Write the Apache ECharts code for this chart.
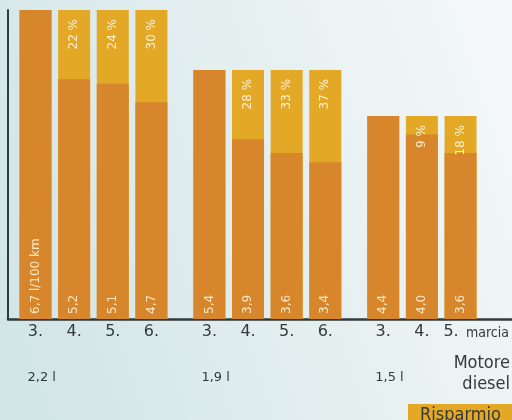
<!DOCTYPE html>
<html>
<head>
<meta charset="utf-8">
<script src="https://cdn.jsdelivr.net/npm/echarts@6/dist/echarts.min.js"></script>
<style>
  html, body { margin: 0; padding: 0; }
  #chart { width: 512px; height: 420px; }
</style>
</head>
<body>
<div id="chart"></div>
<script>
// Fuel consumption (l/100 km) per gear for three diesel engines
const engines = ['2,2 l', '1,9 l', '1,5 l'];
const gears = [
  ['3.', '4.', '5.', '6.'],
  ['3.', '4.', '5.', '6.'],
  ['3.', '4.', '5.']
];
const consumption = [
  [6.7, 5.2, 5.1, 4.7],
  [5.4, 3.9, 3.6, 3.4],
  [4.4, 4.0, 3.6]
];
// slot positions along the x axis (groups separated by an extra half slot)
const positions = [
  [0, 1, 2, 3],
  [4.5, 5.5, 6.5, 7.5],
  [9, 10, 11]
];

const DARK = '#d7862b';
const GOLD = '#e3a825';
const INK = '#333a3c';

// dark bars: consumption in each gear; gold bars behind them: 3rd gear reference
const usedData = [];
const refData = [];
const gearAt = {};
const lastGroup = positions[positions.length - 1];
const lastPos = lastGroup[lastGroup.length - 1];
consumption.forEach((vals, g) => {
  const ref = vals[0];
  vals.forEach((v, i) => {
    const p = positions[g][i];
    usedData.push({ value: [p, v], first: g === 0 && i === 0 });
    refData.push({ value: [p, ref], used: v, label: { show: v < ref } });
    gearAt[p] = gears[g][i];
  });
});
const allPositions = positions.flat();

const fmtNum = v => v.toFixed(1).replace('.', ',');

const chart = echarts.init(document.getElementById('chart'));
chart.setOption({
  backgroundColor: {
    type: 'linear', x: 0, y: 0.7, x2: 1, y2: 0.3,
    colorStops: [
      { offset: 0, color: '#d2e5e7' },
      { offset: 1, color: '#f3f7f7' }
    ]
  },
  animation: false,
  grid: { left: 8, right: 0, top: 10, bottom: 101 },
  xAxis: {
    type: 'value',
    min: -0.7117,
    max: 12.332,
    splitLine: { show: false },
    axisLine: { show: true, onZero: false, lineStyle: { color: INK, width: 2.5 } },
    axisTick: { show: false },
    axisLabel: {
      customValues: allPositions,
      formatter: v => v === lastPos ? '{s|' + gearAt[v] + '}' : (gearAt[v] || ''),
      margin: 5,
      fontFamily: 'DejaVu Sans',
      fontSize: 16,
      color: INK,
      rich: {
        s: { fontFamily: 'DejaVu Sans', fontSize: 16, color: INK, padding: [0, 19, 0, 0] }
      }
    }
  },
  yAxis: {
    type: 'value',
    min: 0,
    max: 6.7,
    splitLine: { show: false },
    axisLine: { show: true, onZero: false, lineStyle: { color: INK, width: 2 } },
    axisTick: { show: false },
    axisLabel: { show: false }
  },
  series: [
    {
      name: 'Risparmio',
      type: 'bar',
      barWidth: 32,
      barGap: '-100%',
      data: refData,
      itemStyle: { color: GOLD },
      label: {
        show: true,
        position: 'insideTop',
        rotate: 90,
        align: 'right',
        verticalAlign: 'middle',
        distance: 9,
        fontFamily: 'DejaVu Sans',
        fontSize: 12,
        color: '#fdf0d2',
        formatter: p => Math.round((p.value[1] - p.data.used) / p.value[1] * 100) + ' %'
      }
    },
    {
      name: 'Consumo',
      type: 'bar',
      barWidth: 32,
      barGap: '-100%',
      data: usedData,
      itemStyle: { color: DARK },
      label: {
        show: true,
        position: 'insideBottom',
        rotate: 90,
        align: 'left',
        verticalAlign: 'middle',
        distance: 5,
        fontFamily: 'DejaVu Sans',
        fontSize: 12,
        color: '#fbe8c3',
        formatter: p => fmtNum(p.value[1]) + (p.data.first ? ' l/100 km' : '')
      }
    }
  ]
});

// Extra texts placed from the axis scale
const toPx = p => chart.convertToPixel({ xAxisIndex: 0, yAxisIndex: 0 }, [p, 0]);
const graphics = [];
engines.forEach((name, g) => {
  const [x] = toPx(positions[g][0]);
  graphics.push({
    type: 'text', x: x - 8, y: 378,
    style: { text: name, font: '13px "DejaVu Sans"', fill: INK, align: 'left', verticalAlign: 'middle' }
  });
});
graphics.push({
  type: 'text', x: 466, y: 333,
  style: { text: 'marcia', font: '14px "DejaVu Sans Condensed"', fill: INK, align: 'left', verticalAlign: 'middle' }
});
graphics.push({
  type: 'text', x: 510, y: 374,
  style: { text: 'Motore\ndiesel', font: '18px "DejaVu Sans Condensed"', lineHeight: 21, fill: INK, align: 'right', verticalAlign: 'middle' }
});
graphics.push({
  type: 'rect', shape: { x: 408, y: 404, width: 104, height: 16 },
  style: { fill: GOLD }
});
graphics.push({
  type: 'text', x: 420, y: 406,
  style: { text: 'Risparmio', font: '18px "DejaVu Sans Condensed"', fill: INK, align: 'left', verticalAlign: 'top' }
});
chart.setOption({ graphic: graphics });
</script>
</body>
</html>
